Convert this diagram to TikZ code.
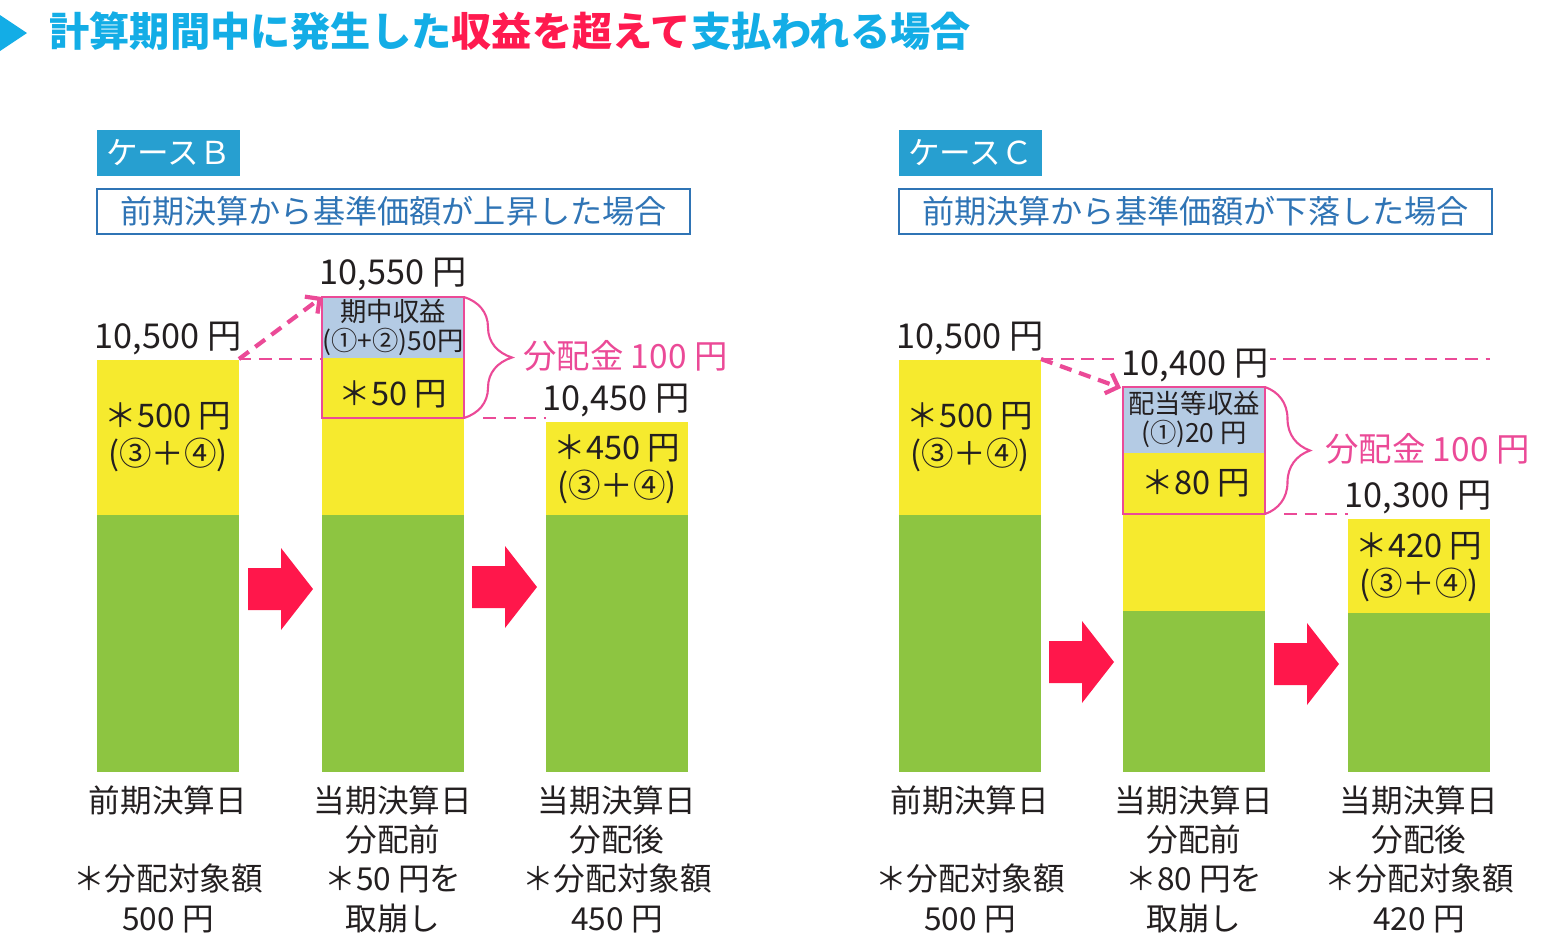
\documentclass[tikz,border=0pt]{standalone}
\usepackage{fontspec}
\setmainfont{Noto Sans CJK JP}
\usetikzlibrary{arrows.meta,decorations.pathreplacing}
\definecolor{ttlcyan}{HTML}{13ADE6}
\definecolor{ttlred}{HTML}{FF1A4F}
\definecolor{casebg}{HTML}{279FD0}
\definecolor{caseblue}{HTML}{2F74B5}
\definecolor{baryellow}{HTML}{F6EA2E}
\definecolor{bargreen}{HTML}{8DC541}
\definecolor{incblue}{HTML}{B4CBE4}
\definecolor{paypink}{HTML}{EB4A97}
\definecolor{arrowred}{HTML}{FF174B}
\definecolor{ink}{HTML}{231F20}
\tikzset{
	value/.style={font=\fontsize{19.5}{22}\selectfont, text=ink, inner sep=1pt},
	inbar/.style={font=\fontsize{18.5}{21.5}\selectfont, text=ink, align=center, inner sep=0pt},
	income/.style={font=\fontsize{15}{16.5}\selectfont, text=ink, align=center, inner sep=0pt},
	foot/.style={font=\fontsize{18}{22.4}\selectfont, text=ink, align=center, anchor=north, inner sep=0pt},
	payout/.style={font=\fontsize{19}{22}\selectfont, text=paypink, anchor=west, inner sep=0pt},
	casetag/.style={font=\fontsize{18}{20}\selectfont, text=white, inner sep=0pt},
	subtitle/.style={font=\fontsize{18.3}{20}\selectfont, text=caseblue, inner sep=0pt},
	pinkdash/.style={paypink, line width=1.5pt, dash pattern=on 7pt off 4.5pt},
	pinkbox/.style={paypink, line width=1.6pt},
	paybrace/.style={paypink, line width=1.2pt, decorate, decoration={brace, amplitude=#1}}
}
\begin{document}
\begin{tikzpicture}[x=0.02cm, y=-0.02cm, >={Straight Barb[length=6pt,width=12pt]}]
	\useasboundingbox (0,0) rectangle (1549,941);
	\fill [ttlcyan] (0,15) -- (27,33) -- (0,51) -- cycle;
	\node (title) [anchor=west, inner sep=0pt, text=ttlcyan, font=\fontsize{22.9}{26}\selectfont\bfseries] at (49,31) {計算期間中に発生した\textcolor{ttlred}{収益を超えて}支払われる場合};
	\foreach \x/\c/\l/\t in {97/B/Ｂ/前期決算から基準価額が上昇した場合, 899/C/Ｃ/前期決算から基準価額が下落した場合} {
		\fill [casebg] (\x,130) rectangle (\x+143,176);
		\node (tag\c) [casetag] at (\x+71.5,153) {ケース\l};
		\draw [caseblue, line width=1.2pt] (\x,189) rectangle (\x+593,234);
		\node (sub\c) [subtitle] at (\x+296.5,211) {\t};
	}
	\foreach \x/\ty/\tg in {97/360/515, 322/358/515, 546/422/515, 899/360/515, 1123/453/611, 1348/519/613} {
		\fill [bargreen] (\x,\tg) rectangle (\x+142,772);
		\fill [baryellow] (\x,\ty) rectangle (\x+142,\tg);
	}
	\fill [incblue] (322,297) rectangle (464,358);
	\fill [incblue] (1123,387) rectangle (1265,453);
	\foreach \x/\y in {248/589, 472/587, 1049/662, 1274/664} \fill [arrowred] (\x,\y-21) -- ++(33,0) -- ++(0,-20) -- (\x+65,\y) -- (\x+33,\y+41) -- ++(0,-20) -- (\x,\y+21) -- cycle;
	\coordinate (topB1) at (239,359);
	\coordinate (boxB) at (322,297);
	\coordinate (edgeB) at (322,359);
	\coordinate (baseB) at (464,418);
	\coordinate (topB3) at (546,418);
	\coordinate (topC1) at (1041,359);
	\coordinate (boxC) at (1121,388);
	\coordinate (endC) at (1490,359);
	\coordinate (baseC) at (1265,514);
	\coordinate (topC3) at (1348,514);
	\draw [pinkdash] (topB1) -- (edgeB);
	\draw [pinkdash, line width=2.4pt, ->] (topB1) -- (boxB);
	\draw [pinkdash] ([xshift=11pt]baseB) -- (topB3);
	\draw [pinkdash] (topC1) -- (endC);
	\draw [pinkdash, line width=2.4pt, ->] (topC1) -- (boxC);
	\draw [pinkdash] ([xshift=11pt]baseC) -- (topC3);
	\draw [pinkbox] (boxB) rectangle (baseB);
	\draw [pinkbox] (1123,387) rectangle (baseC);
	\draw [paybrace=0.96cm] (464,297) -- (baseB);
	\draw [paybrace=0.9cm] (1265,387) -- (baseC);
	\node (payB) [payout] at (523,356) {分配金 100 円};
	\node (payC) [payout] at (1325,449) {分配金 100 円};
	\node (vB1) [value] at (168,339) {10,500 円};
	\node (vB2) [value] at (393,275) {10,550 円};
	\node (vB3) [value] at (616,401) {10,450 円};
	\node (vC1) [value] at (970,339) {10,500 円};
	\node (vC2) [value, fill=white] at (1195,366) {10,400 円};
	\node (vC3) [value] at (1418,498) {10,300 円};
	\node (inB1) [inbar] at (168,437) {＊500 円\\(③＋④)};
	\node (incB) [income] at (393,327) {期中収益\\(①+②)50円};
	\node (inB2) [inbar] at (393,394) {＊50 円};
	\node (inB3) [inbar] at (617,469) {＊450 円\\(③＋④)};
	\node (inC1) [inbar] at (970,437) {＊500 円\\(③＋④)};
	\node (incC) [income] at (1194,419) {配当等収益\\(①)20 円};
	\node (inC2) [inbar] at (1196,483) {＊80 円};
	\node (inC3) [inbar] at (1419,567) {＊420 円\\(③＋④)};
	\node (fB1) [foot] at (168,785) {前期決算日\\\mbox{}\\＊分配対象額\\500 円};
	\node (fB2) [foot] at (393,785) {当期決算日\\分配前\\＊50 円を\\取崩し};
	\node (fB3) [foot] at (617,785) {当期決算日\\分配後\\＊分配対象額\\450 円};
	\node (fC1) [foot] at (970,785) {前期決算日\\\mbox{}\\＊分配対象額\\500 円};
	\node (fC2) [foot] at (1194,785) {当期決算日\\分配前\\＊80 円を\\取崩し};
	\node (fC3) [foot] at (1419,785) {当期決算日\\分配後\\＊分配対象額\\420 円};
\end{tikzpicture}
\end{document}
